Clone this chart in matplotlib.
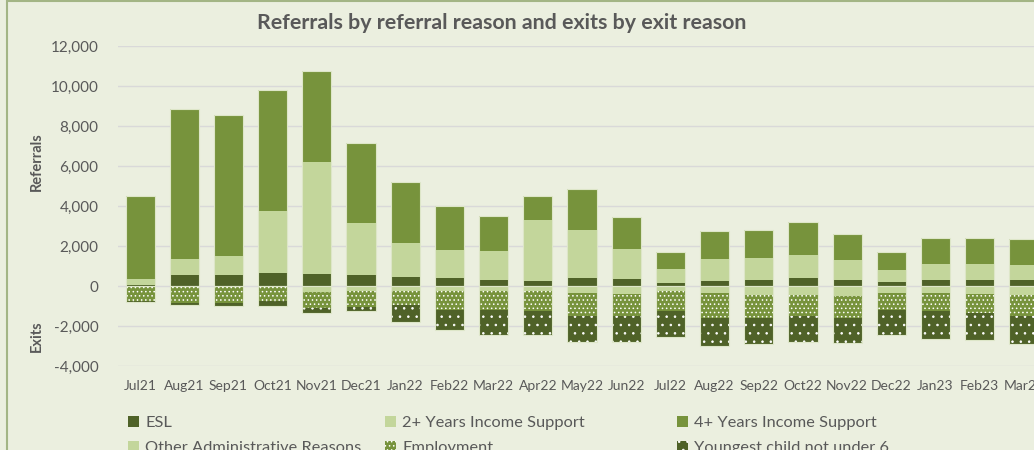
import matplotlib
matplotlib.use("Agg")
import matplotlib.pyplot as plt
from matplotlib.patches import Rectangle, Patch
import numpy as np

months = ["Jul21", "Aug21", "Sep21", "Oct21", "Nov21", "Dec21", "Jan22", "Feb22", "Mar22",
          "Apr22", "May22", "Jun22", "Jul22", "Aug22", "Sep22", "Oct22", "Nov22", "Dec22",
          "Jan23", "Feb23", "Mar23"]

# Referrals (positive)
esl = [50, 550, 550, 630, 600, 570, 430, 380, 320, 250, 420, 350, 170, 270, 300, 380, 280, 220, 280, 300, 280]
yrs2_income = [280, 780, 950, 3100, 5620, 2580, 1720, 1420, 1410, 3030, 2400, 1500, 700, 1100, 1080, 1190, 1000, 600, 800, 780, 790]
yrs4_income = [4170, 7520, 7030, 6070, 4530, 4000, 3070, 2220, 1750, 1200, 2010, 1580, 830, 1360, 1400, 1650, 1300, 860, 1300, 1340, 1260]

# Exits (shown as negative)
other_admin = [60, 50, 50, 60, 315, 250, 250, 265, 250, 250, 330, 400, 265, 365, 430, 430, 480, 330, 330, 380, 465]
employment = [670, 780, 800, 700, 795, 775, 710, 910, 940, 990, 1170, 1090, 1005, 1255, 1155, 1070, 1140, 875, 940, 990, 1035]
youngest_child = [80, 130, 130, 230, 230, 230, 855, 1005, 1250, 1200, 1300, 1300, 1270, 1400, 1335, 1275, 1220, 1240, 1390, 1305, 1420]

yticks = [-4000, -2000, 0, 2000, 4000, 6000, 8000, 10000, 12000]

BG = "#EBEFDF"
DARK = "#4F6228"
MID = "#77933C"
LIGHT = "#C3D69B"
TXT = "#595959"

plt.rcParams["font.family"] = ["Lato", "DejaVu Sans"]
plt.rcParams["hatch.linewidth"] = 0.6

fig = plt.figure(figsize=(10.34, 4.5), dpi=100, facecolor=BG)
ax = fig.add_axes([118 / 1034, 84 / 450, 928 / 1034, 320 / 450])
ax.set_facecolor(BG)

x = np.arange(len(months))
w = 0.66
esl_a = np.array(esl)
y2 = np.array(yrs2_income)
y4 = np.array(yrs4_income)
oa = -np.array(other_admin)
emp = -np.array(employment)
yc = -np.array(youngest_child)

outline = dict(fill=False, edgecolor="#DDE6C8", linewidth=0.8)

ax.bar(x, esl_a, w, color=DARK, linewidth=0, zorder=3)
ax.bar(x, y2, w, bottom=esl_a, color=LIGHT, linewidth=0, zorder=3)
ax.bar(x, y4, w, bottom=esl_a + y2, color=MID, linewidth=0, zorder=3)
ax.bar(x, oa, w, color=LIGHT, linewidth=0, zorder=3)
ax.bar(x, emp, w, bottom=oa, color=MID, edgecolor="white", linewidth=0, hatch="....", zorder=3)
ax.bar(x, yc, w, bottom=oa + emp, color=DARK, edgecolor="white", linewidth=0, hatch="..", zorder=3)
ax.bar(x, esl_a + y2 + y4, w, zorder=4, **outline)
ax.bar(x, oa + emp + yc, w, zorder=4, **outline)

ax.set_xlim(-0.5, len(months) - 0.5)
ax.set_ylim(-4000, 12000)
ax.set_yticks(yticks)
ax.set_yticklabels([f"{v:,}" for v in yticks])
ax.set_xticks(x)
ax.set_xticklabels(months)
ax.tick_params(axis="both", length=0, colors=TXT)
ax.tick_params(axis="y", pad=14, labelsize=11)
ax.tick_params(axis="x", pad=10, labelsize=10)
ax.grid(axis="y", color="#D9D9D9", linewidth=1.0, zorder=0)
for s in ax.spines.values():
    s.set_visible(False)

fig.text(37 / 1034, 1 - 162 / 450, "Referrals", rotation=90, ha="center", va="center",
         fontsize=10.5, fontweight="bold", color=TXT)
fig.text(37 / 1034, 1 - 336 / 450, "Exits", rotation=90, ha="center", va="center",
         fontsize=10.5, fontweight="bold", color=TXT)
fig.text(502 / 1034, 1 - 23 / 450, "Referrals by referral reason and exits by exit reason",
         ha="center", va="center", fontsize=15.4, fontweight="bold", color=TXT)

# Legends (three columns, Excel-like placement)
def mk(fc, hatch=None):
    if hatch:
        return Patch(facecolor=fc, edgecolor="white", linewidth=0, hatch=hatch)
    return Patch(facecolor=fc, linewidth=0)

cols = [
    (128, [mk(DARK), mk(LIGHT)], ["ESL", "Other Administrative Reasons"]),
    (385, [mk(LIGHT), mk(MID, "....")], ["2+ Years Income Support", "Employment"]),
    (677, [mk(MID), mk(DARK, "..")], ["4+ Years Income Support", "Youngest child not under 6"]),
]
for xp, hs, ls in cols:
    fig.legend(hs, ls, loc="upper left", bbox_to_anchor=(xp / 1034, 1 - 416 / 450),
               frameon=False, fontsize=11.8, handlelength=0.7, handleheight=0.7,
               handletextpad=0.35, labelspacing=0.62, borderpad=0, borderaxespad=0,
               labelcolor=TXT)

fig.add_artist(Rectangle((7 / 1034, -0.2), 1.5, 1.2 - 1 / 450, transform=fig.transFigure,
                         fill=False, edgecolor="#A3B585", linewidth=1.5))

fig.savefig("out.png", dpi=100, facecolor=BG)
